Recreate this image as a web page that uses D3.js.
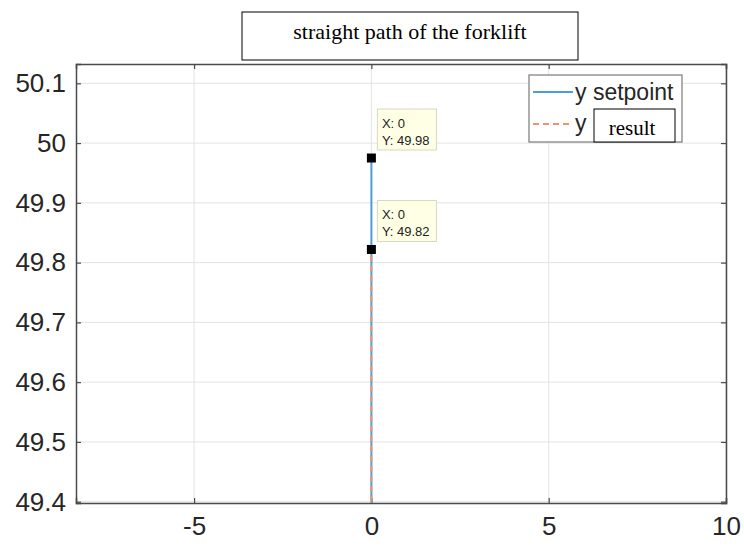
<!DOCTYPE html>
<html>
<head>
<meta charset="utf-8">
<script src="https://cdn.jsdelivr.net/npm/d3@7"></script>
<style>
  html, body { margin: 0; padding: 0; background: #fff; }
  svg { display: block; }
</style>
</head>
<body>
<svg id="chart" width="744" height="547"></svg>
<script>
// ---- data ----
const titleText = "straight path of the forklift";
const xTicks = [-5, 0, 5, 10];
const xTickLabels = ["-5", "0", "5", "10"];
const yTicks = [49.4, 49.5, 49.6, 49.7, 49.8, 49.9, 50, 50.1];
const yTickLabels = ["49.4", "49.5", "49.6", "49.7", "49.8", "49.9", "50", "50.1"];
const xDomain = [-8.33, 10];
const yDomain = [49.3978, 50.1323];
const setpointX = [0, 0];
const setpointY = [49.3, 49.975];
const resultX = [0, 0];
const resultY = [49.3, 49.822];
const tipPoints = [
  { x: 0, y: 49.975, label: "Y: 49.98" },
  { x: 0, y: 49.822, label: "Y: 49.82" }
];
const legendLabels = ["y setpoint", "y"];
const legendOverlay = "result";

// ---- layout ----
const svg = d3.select("#chart");
const L = 76, R = 726, T = 64, B = 503;
const x = d3.scaleLinear().domain(xDomain).range([L, R]);
const y = d3.scaleLinear().domain(yDomain).range([B, T]);
const axisColor = "#4a4a4a";
const gridColor = "#e3e3e3";
const blue = "#4a9fdc";
const orange = "#f0926a";
const sans = "Arial, 'Liberation Sans', Helvetica, sans-serif";
const serif = "'Times New Roman', 'Liberation Serif', serif";

svg.append("defs").append("clipPath").attr("id", "clip")
  .append("rect").attr("x", L).attr("y", T).attr("width", R - L).attr("height", B - T);

// grid
svg.append("g").selectAll("line").data(xTicks).join("line")
  .attr("x1", d => x(d)).attr("x2", d => x(d)).attr("y1", T).attr("y2", B)
  .attr("stroke", gridColor).attr("stroke-width", 1);
svg.append("g").selectAll("line").data(yTicks).join("line")
  .attr("x1", L).attr("x2", R).attr("y1", d => y(d)).attr("y2", d => y(d))
  .attr("stroke", gridColor).attr("stroke-width", 1);

// axes (inward ticks)
const axB = d3.axisBottom(x).tickValues(xTicks).tickSize(-5).tickPadding(14)
  .tickFormat((d, i) => xTickLabels[i]);
const axT = d3.axisTop(x).tickValues(xTicks).tickSize(-5).tickFormat("");
const axLft = d3.axisLeft(y).tickValues(yTicks).tickSize(-5).tickPadding(10)
  .tickFormat((d, i) => yTickLabels[i]);
const axRgt = d3.axisRight(y).tickValues(yTicks).tickSize(-5).tickFormat("");

function styleAxis(g) {
  g.select(".domain").attr("stroke", axisColor).attr("stroke-width", 1.5);
  g.selectAll(".tick line").attr("stroke", axisColor).attr("stroke-width", 1.2);
  g.selectAll(".tick text").attr("fill", "#262626").style("font-family", sans).style("font-size", "26px");
}
svg.append("g").attr("transform", `translate(0,${B})`).call(axB).call(styleAxis)
  .selectAll(".tick text").attr("dy", "0.71em");
svg.append("g").attr("transform", `translate(0,${T})`).call(axT).call(styleAxis);
svg.append("g").attr("transform", `translate(${L},0)`).call(axLft).call(styleAxis);
svg.append("g").attr("transform", `translate(${R},0)`).call(axRgt).call(styleAxis);

// lines
const line = d3.line().x(d => x(d[0])).y(d => y(d[1]));
const plot = svg.append("g").attr("clip-path", "url(#clip)");
plot.append("path").datum(d3.zip(setpointX, setpointY)).attr("d", line)
  .attr("fill", "none").attr("stroke", blue).attr("stroke-width", 2);
plot.append("path").datum(d3.zip(resultX, resultY)).attr("d", line)
  .attr("fill", "none").attr("stroke", orange).attr("stroke-width", 2)
  .attr("stroke-dasharray", "6,4");

// data tips
tipPoints.forEach(p => {
  const px = x(p.x), py = y(p.y);
  const g = svg.append("g");
  g.append("rect").attr("x", px + 6).attr("y", py - 49).attr("width", 59).attr("height", 41)
    .attr("fill", "#ffffe6").attr("stroke", "#d8d8c0").attr("stroke-width", 1);
  g.append("text").attr("x", px + 10.5).attr("y", py - 30).text("X: " + p.x)
    .style("font-family", sans).style("font-size", "13px").attr("fill", "#222");
  g.append("text").attr("x", px + 10.5).attr("y", py - 13).text(p.label)
    .style("font-family", sans).style("font-size", "13px").attr("fill", "#222");
  g.append("rect").attr("x", px - 4.5).attr("y", py - 4.5).attr("width", 9).attr("height", 9)
    .attr("fill", "#000");
});

// legend
const lg = svg.append("g");
lg.append("rect").attr("x", 529).attr("y", 75).attr("width", 153).attr("height", 67)
  .attr("fill", "#fff").attr("stroke", "#7a7a7a").attr("stroke-width", 1.2);
lg.append("line").attr("x1", 533).attr("x2", 573).attr("y1", 92).attr("y2", 92)
  .attr("stroke", blue).attr("stroke-width", 2);
lg.append("line").attr("x1", 533).attr("x2", 573).attr("y1", 124).attr("y2", 124)
  .attr("stroke", orange).attr("stroke-width", 2).attr("stroke-dasharray", "6,4");
lg.append("text").attr("x", 575).attr("y", 100).text(legendLabels[0])
  .style("font-family", sans).style("font-size", "23px").attr("fill", "#262626");
lg.append("text").attr("x", 575).attr("y", 131).text(legendLabels[1])
  .style("font-family", sans).style("font-size", "23px").attr("fill", "#262626");
lg.append("rect").attr("x", 594).attr("y", 109).attr("width", 81).attr("height", 33)
  .attr("fill", "#fff").attr("stroke", "#000").attr("stroke-width", 1);
lg.append("text").attr("x", 632).attr("y", 135).attr("text-anchor", "middle").text(legendOverlay)
  .style("font-family", serif).style("font-size", "21px").attr("fill", "#000");

// title box
svg.append("rect").attr("x", 242).attr("y", 12).attr("width", 336).attr("height", 48)
  .attr("fill", "#fff").attr("stroke", "#000").attr("stroke-width", 1);
svg.append("text").attr("x", 410).attr("y", 39).attr("text-anchor", "middle").text(titleText)
  .style("font-family", serif).style("font-size", "22px").attr("fill", "#000");
</script>
</body>
</html>
